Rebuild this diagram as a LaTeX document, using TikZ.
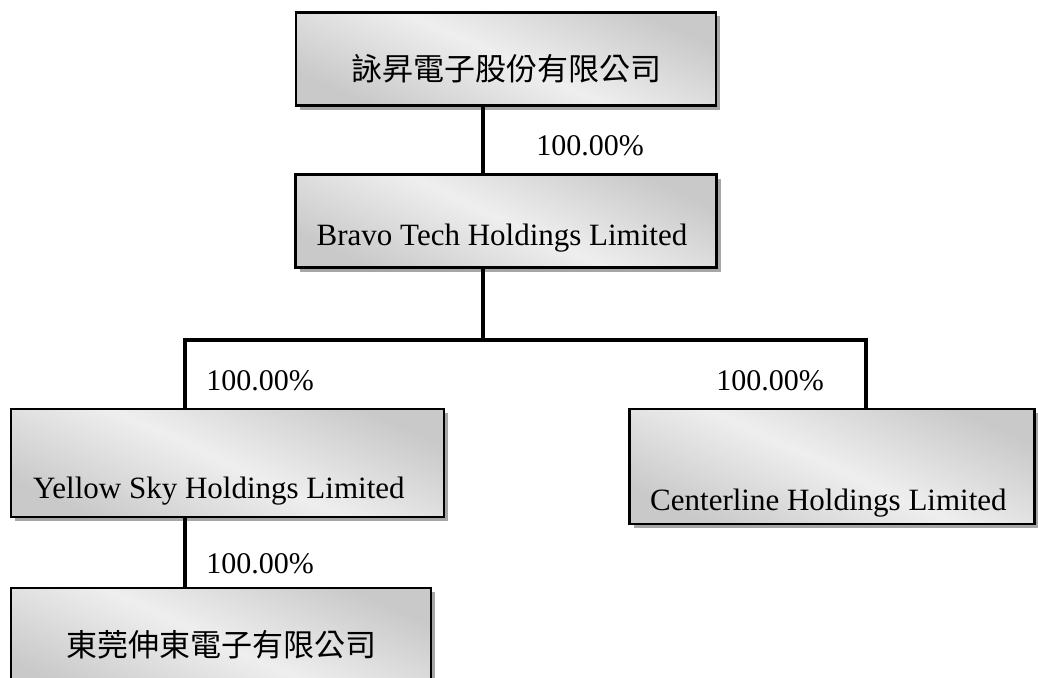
\documentclass[tikz,border=0pt]{standalone}
\usepackage{fontspec}
\setmainfont{Liberation Serif}
\newfontfamily\cjk{Noto Sans CJK TC}
\usetikzlibrary{shadows}

\tikzset{
  company/.style={draw=black, line width=2.5pt, rectangle, inner sep=0pt,
    top color=gray!42, bottom color=gray!42, middle color=gray!13, shading angle=-25,
    general shadow={fill=gray!70, shadow xshift=4pt, shadow yshift=-4pt}},
  link/.style={line width=4pt},
  share/.style={font=\fontsize{30}{36}\selectfont, anchor=base, inner sep=0pt},
  orgname/.style={font=\fontsize{31}{37}\selectfont, inner sep=0pt}
}

\begin{document}
\begin{tikzpicture}[x=1pt,y=-1pt]
    \useasboundingbox (0,0) rectangle (1038,677);
    % Company boxes
    \node[company, minimum width=420pt, minimum height=93pt] (parent) at (506,59) {};
    \node[company, minimum width=421pt, minimum height=93pt] (bravo) at (506,221) {};
    \node[company, minimum width=433pt, minimum height=108pt] (yellow) at (227.5,463) {};
    \node[company, minimum width=405pt, minimum height=115pt] (centerline) at (832,466.5) {};
    \node[company, minimum width=420pt, minimum height=110pt] (dongguan) at (221,643) {};
    % Company names
    \node[orgname] (parentname) at (506,69) {\cjk 詠昇電子股份有限公司};
    \node[orgname, anchor=base] (bravoname) at (502,245) {Bravo Tech Holdings Limited};
    \node[orgname, anchor=base west] (yellowname) at (33,498) {Yellow Sky Holdings Limited};
    \node[orgname, anchor=base west] (centername) at (650,510) {Centerline Holdings Limited};
    \node[orgname] (dongguanname) at (221,645) {\cjk 東莞伸東電子有限公司};
    % Ownership lines
    \coordinate (trunk) at (483,340);
    \coordinate (leftdrop) at (185,340);
    \coordinate (rightdrop) at (866,340);
    \draw[link] (parent.south -| trunk) -- (bravo.north -| trunk);
    \draw[link] (bravo.south -| trunk) -- (trunk);
    \draw[link] (yellow.north -| leftdrop) -- (leftdrop) -- (rightdrop) -- (centerline.north -| rightdrop);
    \draw[link] (yellow.south -| leftdrop) -- (dongguan.north -| leftdrop);
    % Shares
    \node[share] (pctbravo) at (590,155) {100.00\%};
    \node[share] (pctyellow) at (260,390) {100.00\%};
    \node[share] (pctcenter) at (770,390) {100.00\%};
    \node[share] (pctdongguan) at (260,573) {100.00\%};
\end{tikzpicture}
\end{document}
